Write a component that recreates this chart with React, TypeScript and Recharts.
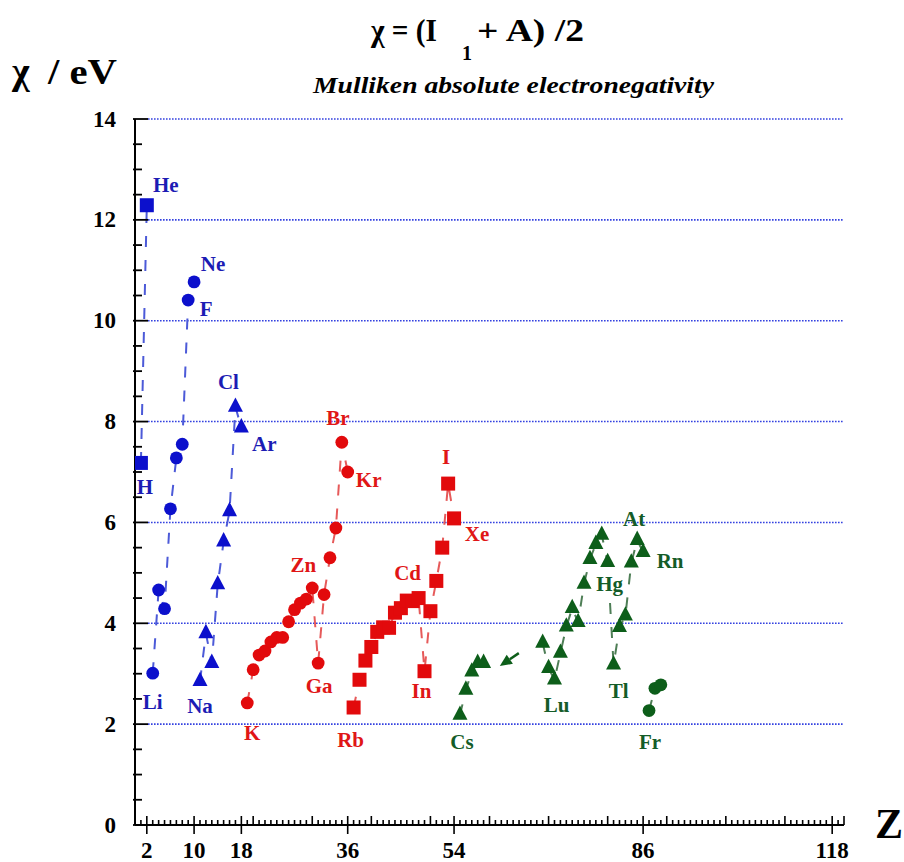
import React from "react";
import { ScatterChart, Scatter, XAxis, YAxis, ReferenceLine } from "recharts";

const FONT = "Liberation Serif, DejaVu Serif, serif";

// atomic number Z, Mulliken electronegativity (eV) and symbol, one block per period
const p1Z = [1, 2];
const p1Chi = [7.18, 12.29];
const p1Sym = ["H", "He"];

const p2Z = [3, 4, 5, 6, 7, 8, 9, 10];
const p2Chi = [3.01, 4.66, 4.29, 6.27, 7.28, 7.55, 10.41, 10.77];
const p2Sym = ["Li", "Be", "B", "C", "N", "O", "F", "Ne"];

const p3Z = [11, 12, 13, 14, 15, 16, 17, 18];
const p3Chi = [2.85, 3.8, 3.21, 4.77, 5.62, 6.22, 8.29, 7.88];
const p3Sym = ["Na", "Mg", "Al", "Si", "P", "S", "Cl", "Ar"];

const p4Z = [19, 20, 21, 22, 23, 24, 25, 26, 27, 28, 29, 30, 31, 32, 33, 34, 35, 36];
const p4Chi = [2.42, 3.08, 3.37, 3.45, 3.63, 3.72, 3.72, 4.03, 4.27, 4.4, 4.48, 4.7, 3.21, 4.57, 5.3, 5.89, 7.59, 7.0];
const p4Sym = ["K", "Ca", "Sc", "Ti", "V", "Cr", "Mn", "Fe", "Co", "Ni", "Cu", "Zn", "Ga", "Ge", "As", "Se", "Br", "Kr"];

const p5Z = [37, 38, 39, 40, 41, 42, 43, 44, 45, 46, 47, 48, 49, 50, 51, 52, 53, 54];
const p5Chi = [2.33, 2.88, 3.26, 3.53, 3.83, 3.92, 3.91, 4.21, 4.3, 4.45, 4.44, 4.5, 3.05, 4.24, 4.84, 5.5, 6.77, 6.08];
const p5Sym = ["Rb", "Sr", "Y", "Zr", "Nb", "Mo", "Tc", "Ru", "Rh", "Pd", "Ag", "Cd", "In", "Sn", "Sb", "Te", "I", "Xe"];

const p6aZ = [55, 56, 57, 58, 59];
const p6aChi = [2.18, 2.68, 3.04, 3.21, 3.21];
const p6aSym = ["Cs", "Ba", "La", "Ce", "Pr"];

// arrow standing in for the missing lanthanides
const gapZ = [63.1];
const gapChi = [3.27];

const p6bZ = [69, 70, 71, 72, 73, 74, 75, 76, 77, 78, 79, 80, 81, 82, 83, 84, 85, 86];
const p6bChi = [3.61, 3.11, 2.88, 3.41, 3.93, 4.3, 4.02, 4.78, 5.27, 5.57, 5.75, 5.21, 3.18, 3.92, 4.15, 5.2, 5.65, 5.41];
const p6bSym = ["Tm", "Yb", "Lu", "Hf", "Ta", "W", "Re", "Os", "Ir", "Pt", "Au", "Hg", "Tl", "Pb", "Bi", "Po", "At", "Rn"];

const p7Z = [87, 88, 89];
const p7Chi = [2.27, 2.71, 2.78];
const p7Sym = ["Fr", "Ra", "Ac"];

const xLabelTicks = [2, 10, 18, 36, 54, 86, 118];
const yLabelTicks = [0, 2, 4, 6, 8, 10, 12, 14];
const gridValues = [2, 4, 6, 8, 10, 12, 14];

const xAllTicks = Array.from({ length: 121 }, (_, i) => i);
const yAllTicks = Array.from({ length: 29 }, (_, i) => i / 2);

// label placement relative to the marker centre (px)
const labelOffset: Record<string, [number, number]> = {
  He: [19, -20], H: [4, 24], Ne: [19, -18], F: [18, 9], Cl: [-7, -25], Ar: [23, 16],
  Li: [0, 29], Na: [0, 25],
  K: [5, 30], Zn: [-9, -23], Ga: [1, 23], Br: [-4, -24], Kr: [21, 8],
  Rb: [-3, 32], Cd: [-11, -25], In: [-3, 20], I: [-2, -27], Xe: [23, 16],
  Cs: [2, 27], Lu: [2, 25], Hg: [2, 22], Tl: [5, 26], At: [-3, -21], Rn: [27, 9], Fr: [1, 31],
};

const BLUE = "#0c10cc";
const BLUE_TXT = "#1c1cb4";
const BLUE_LINE = "#4c5ad8";
const RED = "#e20a0c";
const RED_TXT = "#e01616";
const RED_LINE = "#e65a5a";
const GREEN = "#0d5e1a";
const GREEN_TXT = "#145c28";
const GREEN_LINE = "#4e7e56";
const GRID = "#3442e0";

const textStyle = { fontFamily: FONT, fontWeight: 700 } as const;

const build = (zs: number[], chis: number[], syms?: string[]) =>
  zs.map((z, i) => ({ atomic: z, chi: chis[i], sym: syms ? syms[i] : "" }));

type Kind = "circle" | "square" | "triangle";

function makeShape(kind: Kind, fill: string, txt: string) {
  return (props: any) => {
    const { cx, cy } = props;
    const sym = props.payload?.sym ?? props.sym;
    const off = labelOffset[sym];
    let mark;
    if (kind === "circle") mark = <circle cx={cx} cy={cy} r={6.4} fill={fill} />;
    else if (kind === "square") mark = <rect x={cx - 7} y={cy - 7} width={14} height={14} fill={fill} />;
    else
      mark = (
        <polygon
          points={`${cx},${cy - 9.5} ${cx + 7.5},${cy + 4.8} ${cx - 7.5},${cy + 4.8}`}
          fill={fill}
        />
      );
    return (
      <g>
        {mark}
        {off && (
          <text
            x={cx + off[0]}
            y={cy + off[1] + 7}
            textAnchor="middle"
            fill={txt}
            style={{ ...textStyle, fontSize: 21 }}
          >
            {sym}
          </text>
        )}
      </g>
    );
  };
}

const ArrowShape = (props: any) => {
  const { cx, cy } = props;
  const tip = [cx - 8, cy + 6];
  const base = [cx + 2, cy - 0.8];
  return (
    <g>
      <line x1={cx + 11} y1={cy - 7} x2={base[0]} y2={base[1]} stroke={GREEN} strokeWidth={2.5} />
      <polygon
        points={`${tip[0]},${tip[1]} ${base[0] + 3.1},${base[1] + 4.5} ${base[0] - 3.1},${base[1] - 4.5}`}
        fill={GREEN}
      />
    </g>
  );
};

const XTick = (props: any) => {
  const { x, y, payload } = props;
  const v = payload.value;
  const labelled = xLabelTicks.includes(v);
  const up = labelled || v % 10 === 0 ? 9 : 5;
  const down = labelled ? 9 : 0;
  return (
    <g>
      <line x1={x} x2={x} y1={y - up} y2={y + down} stroke="#000" strokeWidth={1.6} />
      {labelled && (
        <text x={x} y={y + 33} textAnchor="middle" fill="#000" style={{ ...textStyle, fontSize: 23 }}>
          {v}
        </text>
      )}
    </g>
  );
};

const YTick = (props: any) => {
  const { x, y, payload } = props;
  const v = payload.value;
  const labelled = yLabelTicks.includes(v);
  return (
    <g>
      <line x1={x - 2} x2={x + (labelled ? 13 : 7)} y1={y} y2={y} stroke="#000" strokeWidth={1.8} />
      {labelled && (
        <text x={x - 19} y={y + 7.5} textAnchor="end" fill="#000" style={{ ...textStyle, fontSize: 23 }}>
          {v}
        </text>
      )}
    </g>
  );
};

const dashed = (stroke: string) => ({ stroke, strokeWidth: 2, strokeDasharray: "11 13" });

export default function App() {
  return (
    <div style={{ position: "absolute", left: 0, top: 0, width: 904, height: 862, background: "#fff" }}>
      <ScatterChart width={904} height={862} margin={{ top: 119, right: 60, bottom: 0, left: 0 }}>
        <XAxis
          type="number"
          dataKey="atomic"
          domain={[0, 120]}
          ticks={xAllTicks}
          interval={0}
          tick={<XTick />}
          tickLine={false}
          tickSize={0}
          tickMargin={0}
          height={37}
          axisLine={{ stroke: "#000", strokeWidth: 2 }}
          allowDataOverflow
        />
        <YAxis
          type="number"
          dataKey="chi"
          domain={[0, 14]}
          ticks={yAllTicks}
          interval={0}
          tick={<YTick />}
          tickLine={false}
          tickSize={0}
          tickMargin={0}
          width={135}
          axisLine={{ stroke: "#000", strokeWidth: 2 }}
          allowDataOverflow
        />
        {gridValues.map((v) => (
          <ReferenceLine
            key={v}
            segment={[
              { x: 2.2, y: v },
              { x: 120, y: v },
            ]}
            stroke={GRID}
            strokeWidth={1.6}
            strokeDasharray="1.6 1.4"
            ifOverflow="visible"
          />
        ))}
        <Scatter data={build(p1Z, p1Chi, p1Sym)} line={dashed(BLUE_LINE)} shape={makeShape("square", BLUE, BLUE_TXT)} isAnimationActive={false} />
        <Scatter data={build(p2Z, p2Chi, p2Sym)} line={dashed(BLUE_LINE)} shape={makeShape("circle", BLUE, BLUE_TXT)} isAnimationActive={false} />
        <Scatter data={build(p3Z, p3Chi, p3Sym)} line={dashed(BLUE_LINE)} shape={makeShape("triangle", BLUE, BLUE_TXT)} isAnimationActive={false} />
        <Scatter data={build(p4Z, p4Chi, p4Sym)} line={dashed(RED_LINE)} shape={makeShape("circle", RED, RED_TXT)} isAnimationActive={false} />
        <Scatter data={build(p5Z, p5Chi, p5Sym)} line={dashed(RED_LINE)} shape={makeShape("square", RED, RED_TXT)} isAnimationActive={false} />
        <Scatter data={build(p6aZ, p6aChi, p6aSym)} line={dashed(GREEN_LINE)} shape={makeShape("triangle", GREEN, GREEN_TXT)} isAnimationActive={false} />
        <Scatter data={build(gapZ, gapChi)} shape={ArrowShape} isAnimationActive={false} />
        <Scatter data={build(p6bZ, p6bChi, p6bSym)} line={dashed(GREEN_LINE)} shape={makeShape("triangle", GREEN, GREEN_TXT)} isAnimationActive={false} />
        <Scatter data={build(p7Z, p7Chi, p7Sym)} line={dashed(GREEN_LINE)} shape={makeShape("circle", GREEN, GREEN_TXT)} isAnimationActive={false} />
      </ScatterChart>
      <svg
        width={904}
        height={862}
        style={{ position: "absolute", left: 0, top: 0, pointerEvents: "none", fontFamily: FONT, fontWeight: 700 }}
      >
        <text x={371} y={41} fontSize={31} textLength={66} lengthAdjust="spacingAndGlyphs">
          χ = (I
        </text>
        <text x={462} y={60} fontSize={20}>
          1
        </text>
        <text x={477} y={41} fontSize={31} textLength={107} lengthAdjust="spacingAndGlyphs">
          + A) /2
        </text>
        <text x={12} y={84} fontSize={38}>
          χ
        </text>
        <text x={48} y={84} fontSize={36} textLength={69} lengthAdjust="spacingAndGlyphs">
          / eV
        </text>
        <text x={313} y={93} fontSize={24} fontStyle="italic" textLength={401} lengthAdjust="spacingAndGlyphs">
          Mulliken absolute electronegativity
        </text>
        <text x={875} y={838} fontSize={42}>
          Z
        </text>
      </svg>
    </div>
  );
}
